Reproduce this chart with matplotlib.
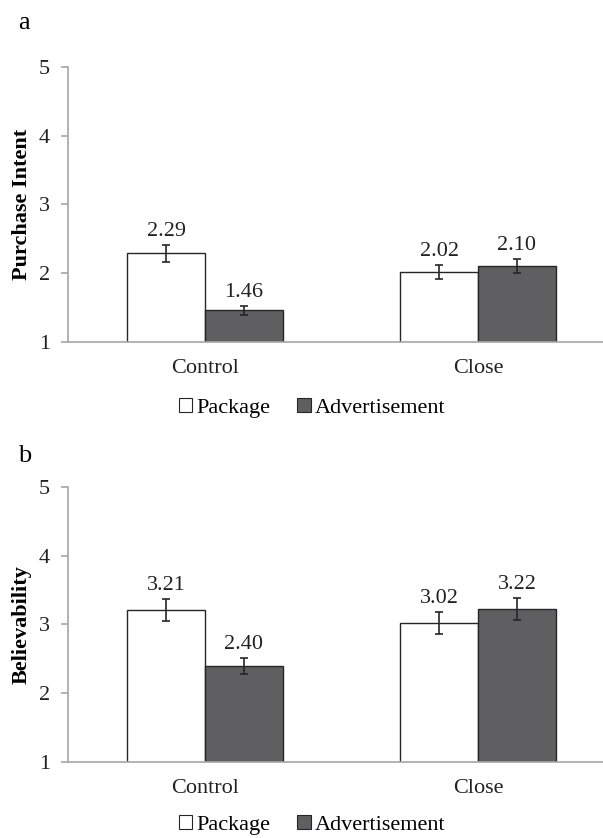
import numpy as np
import matplotlib.pyplot as plt
from matplotlib.patches import Patch

plt.rcParams['font.family'] = ['Liberation Serif', 'DejaVu Serif']

categories = ['Control', 'Close']
series = ['Package', 'Advertisement']

# panel a: purchase intent
intent_pkg = [2.29, 2.02]
intent_adv = [1.46, 2.10]
intent_pkg_err = [0.12, 0.10]
intent_adv_err = [0.065, 0.10]

# panel b: believability
believ_pkg = [3.21, 3.02]
believ_adv = [2.40, 3.22]
believ_pkg_err = [0.16, 0.155]
believ_adv_err = [0.115, 0.16]

fig = plt.figure(figsize=(6.03, 8.38), dpi=100)

axis_gray = '#a6a6a6'
edge = '#262626'
dark = '#5f5f61'
fs = 16
w = 0.285


def draw_panel(ax, letter, letter_y, legend_y, ylabel, pkg, adv, pkg_err, adv_err):
    x = np.arange(len(categories))
    ax.bar(x - w / 2, pkg, w, color='white', edgecolor=edge, linewidth=1.0, zorder=2)
    ax.bar(x + w / 2, adv, w, color=dark, edgecolor=edge, linewidth=1.0, zorder=2)
    ax.errorbar(x - w / 2, pkg, yerr=pkg_err, fmt='none', ecolor=edge, elinewidth=1.2,
                capsize=2.8, capthick=1.2, zorder=3)
    ax.errorbar(x + w / 2, adv, yerr=adv_err, fmt='none', ecolor=edge, elinewidth=1.2,
                capsize=2.8, capthick=1.2, zorder=3)
    for xs, vals, errs in [(x - w / 2, pkg, pkg_err), (x + w / 2, adv, adv_err)]:
        for xi, v, e in zip(xs, vals, errs):
            ax.annotate(f'{v:.2f}', (xi, v + e), xytext=(0, 3), textcoords='offset points',
                        ha='center', va='bottom', fontsize=fs, color='#222222')
    ax.set_ylim(1, 5)
    ax.set_yticks([1, 2, 3, 4, 5])
    ax.set_xlim(-0.502, 1.458)
    ax.set_xticks(x)
    ax.set_xticklabels(categories)
    for s in ['top', 'right']:
        ax.spines[s].set_visible(False)
    ax.spines['left'].set_color(axis_gray)
    ax.spines['bottom'].set_color(axis_gray)
    ax.spines['left'].set_linewidth(1.2)
    ax.spines['bottom'].set_linewidth(1.2)
    ax.tick_params(axis='y', direction='out', length=5, width=1.2, color=axis_gray,
                   labelsize=fs, pad=8, labelcolor='#222222')
    ax.tick_params(axis='x', length=0, labelsize=fs, pad=12, labelcolor='#222222')
    ax.set_ylabel(ylabel, fontsize=fs, fontweight='bold', labelpad=5)
    fig.text(0.03, letter_y, letter, fontsize=19, ha='left', va='baseline')
    handles = [Patch(facecolor='white', edgecolor=edge, linewidth=0.8),
               Patch(facecolor=dark, edgecolor=edge, linewidth=0.8)]
    fig.legend(handles, series, loc='center', bbox_to_anchor=(0.518, legend_y),
               ncol=2, frameon=False, fontsize=fs, handlelength=0.6, handleheight=0.6,
               handletextpad=0.2, columnspacing=1.2)


ax1 = fig.add_axes([0.1128, 0.5919, 0.8872, 0.3282])
draw_panel(ax1, 'a', 0.965, 0.513, 'Purchase Intent',
           intent_pkg, intent_adv, intent_pkg_err, intent_adv_err)

ax2 = fig.add_axes([0.1128, 0.0907, 0.8872, 0.3282])
draw_panel(ax2, 'b', 0.449, 0.016, 'Believability',
           believ_pkg, believ_adv, believ_pkg_err, believ_adv_err)

fig.savefig('out.png', dpi=100)
